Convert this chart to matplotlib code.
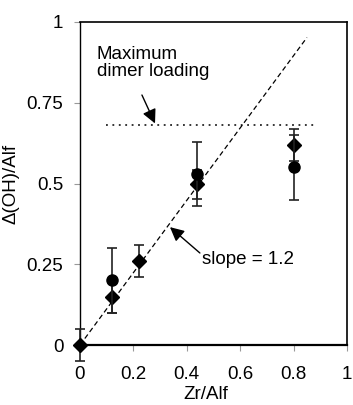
import numpy as np
import matplotlib
matplotlib.use("Agg")
import matplotlib.pyplot as plt

plt.rcParams['font.family'] = ['Liberation Sans', 'DejaVu Sans']

# circles
circ_x = [0.12, 0.44, 0.80]
circ_y = [0.20, 0.53, 0.55]
circ_err = [0.10, 0.10, 0.10]

# diamonds
diam_x = [0.0, 0.12, 0.22, 0.44, 0.80]
diam_y = [0.0, 0.15, 0.26, 0.497, 0.62]
diam_err = [0.05, 0.05, 0.05, 0.046, 0.05]

# guide lines
slope_x = [0.0, 0.85]
slope_drawn = 1.12
max_loading = 0.68
max_x = [0.097, 0.887]

xticks = [0, 0.2, 0.4, 0.6, 0.8, 1]
xtick_labels = ["0", "0.2", "0.4", "0.6", "0.8", "1"]
yticks = [0, 0.25, 0.5, 0.75, 1]
ytick_labels = ["0", "0.25", "0.5", "0.75", "1"]

FS = 13.5

fig = plt.figure(figsize=(3.53, 4.05), dpi=100)
ax = fig.add_axes([0.2266, 0.148, 0.7564, 0.7977])

# fitted line and max loading
ax.plot(slope_x, [slope_drawn * v for v in slope_x], color='black', lw=0.9,
        dashes=(4, 2.5), zorder=2)
ax.plot(max_x, [max_loading, max_loading], color='black', lw=1.1,
        dashes=(1.2, 3), zorder=2)

ax.errorbar(diam_x, diam_y, yerr=diam_err, fmt='D', color='black', ms=7,
            ecolor='#222222', elinewidth=1.2, capsize=3.3, capthick=1.2,
            clip_on=False, zorder=4)
ax.errorbar(circ_x, circ_y, yerr=circ_err, fmt='o', color='black', ms=8,
            ecolor='#222222', elinewidth=1.2, capsize=3.3, capthick=1.2,
            clip_on=False, zorder=5)

ax.set_xlim(0, 1)
ax.set_ylim(0, 1)
ax.set_xticks(xticks)
ax.set_xticklabels(xtick_labels)
ax.set_yticks(yticks)
ax.set_yticklabels(ytick_labels)
ax.tick_params(axis='both', direction='out', length=4, width=0.8,
               color='#999999', labelsize=FS)
ax.tick_params(axis='y', pad=8)
ax.tick_params(axis='x', pad=11)

for side, w in [('left', 1.0), ('bottom', 1.6), ('top', 1.2), ('right', 1.2)]:
    ax.spines[side].set_linewidth(w)
    ax.spines[side].set_color('black')

ax.set_xlabel("Zr/Alf", fontsize=FS)
ax.xaxis.set_label_coords(0.47, -0.128)
ax.set_ylabel("\u0394(OH)/Alf", fontsize=FS)
ax.yaxis.set_label_coords(-0.225, 0.5)

arrow = dict(arrowstyle='-|>,head_length=0.6,head_width=0.3', color='black',
             lw=1.0, mutation_scale=14, shrinkA=0, shrinkB=0)
ax.text(0.063, 0.925, "Maximum\ndimer loading", fontsize=FS, ha='left',
        va='top', linespacing=0.95)
ax.annotate("", xy=(0.281, 0.686), xytext=(0.232, 0.774), arrowprops=arrow)
ax.text(0.457, 0.266, "slope = 1.2", fontsize=FS, ha='left', va='center')
ax.annotate("", xy=(0.337, 0.365), xytext=(0.449, 0.285), arrowprops=arrow)

fig.savefig("out.png", dpi=100)
